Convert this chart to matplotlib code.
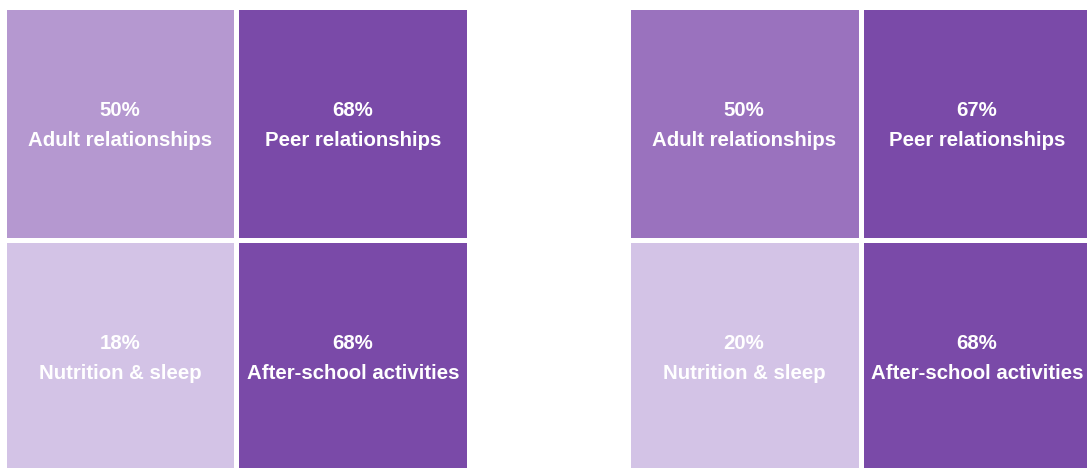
import matplotlib.pyplot as plt

plt.rcParams['font.family'] = ['Liberation Sans', 'DejaVu Sans']

# 2x2 grids, cells in reading order: top-left, top-right, bottom-left, bottom-right
labels = ["Adult relationships", "Peer relationships",
          "Nutrition & sleep", "After-school activities"]
left_values = [50, 68, 18, 68]
right_values = [50, 67, 20, 68]
left_colors = ["#b598d0", "#7a4aa8", "#d3c3e6", "#7a4aa8"]
right_colors = ["#9a72be", "#7a4aa8", "#d3c3e6", "#7a4aa8"]

W, H = 1087, 468
fig = plt.figure(figsize=(W / 100, H / 100), dpi=100)


def draw_grid(x0, values, colors):
    # one unit cell = 233 px including the white gap
    ax = fig.add_axes([x0 / W, 1 - 472.5 / H, 466 / W, 466 / H])
    cols = [i % 2 for i in range(4)]
    rows = [i // 2 for i in range(4)]
    ax.bar(cols, 1, bottom=rows, width=1, align='edge', color=colors,
           edgecolor='white', linewidth=3.6)
    for c, r, v, lab in zip(cols, rows, values, labels):
        ax.text(c + 0.5, r + 0.5 - 0.053, f"{v}%", ha='center', va='center',
                color='white', fontsize=14.7, fontweight='bold')
        ax.text(c + 0.5, r + 0.5 + 0.077, lab, ha='center', va='center',
                color='white', fontsize=14.7, fontweight='bold')
    ax.set_xlim(0, 2)
    ax.set_ylim(2, 0)
    ax.axis('off')


draw_grid(3.5, left_values, left_colors)
draw_grid(627.5, right_values, right_colors)

fig.savefig("out.png", dpi=100)
